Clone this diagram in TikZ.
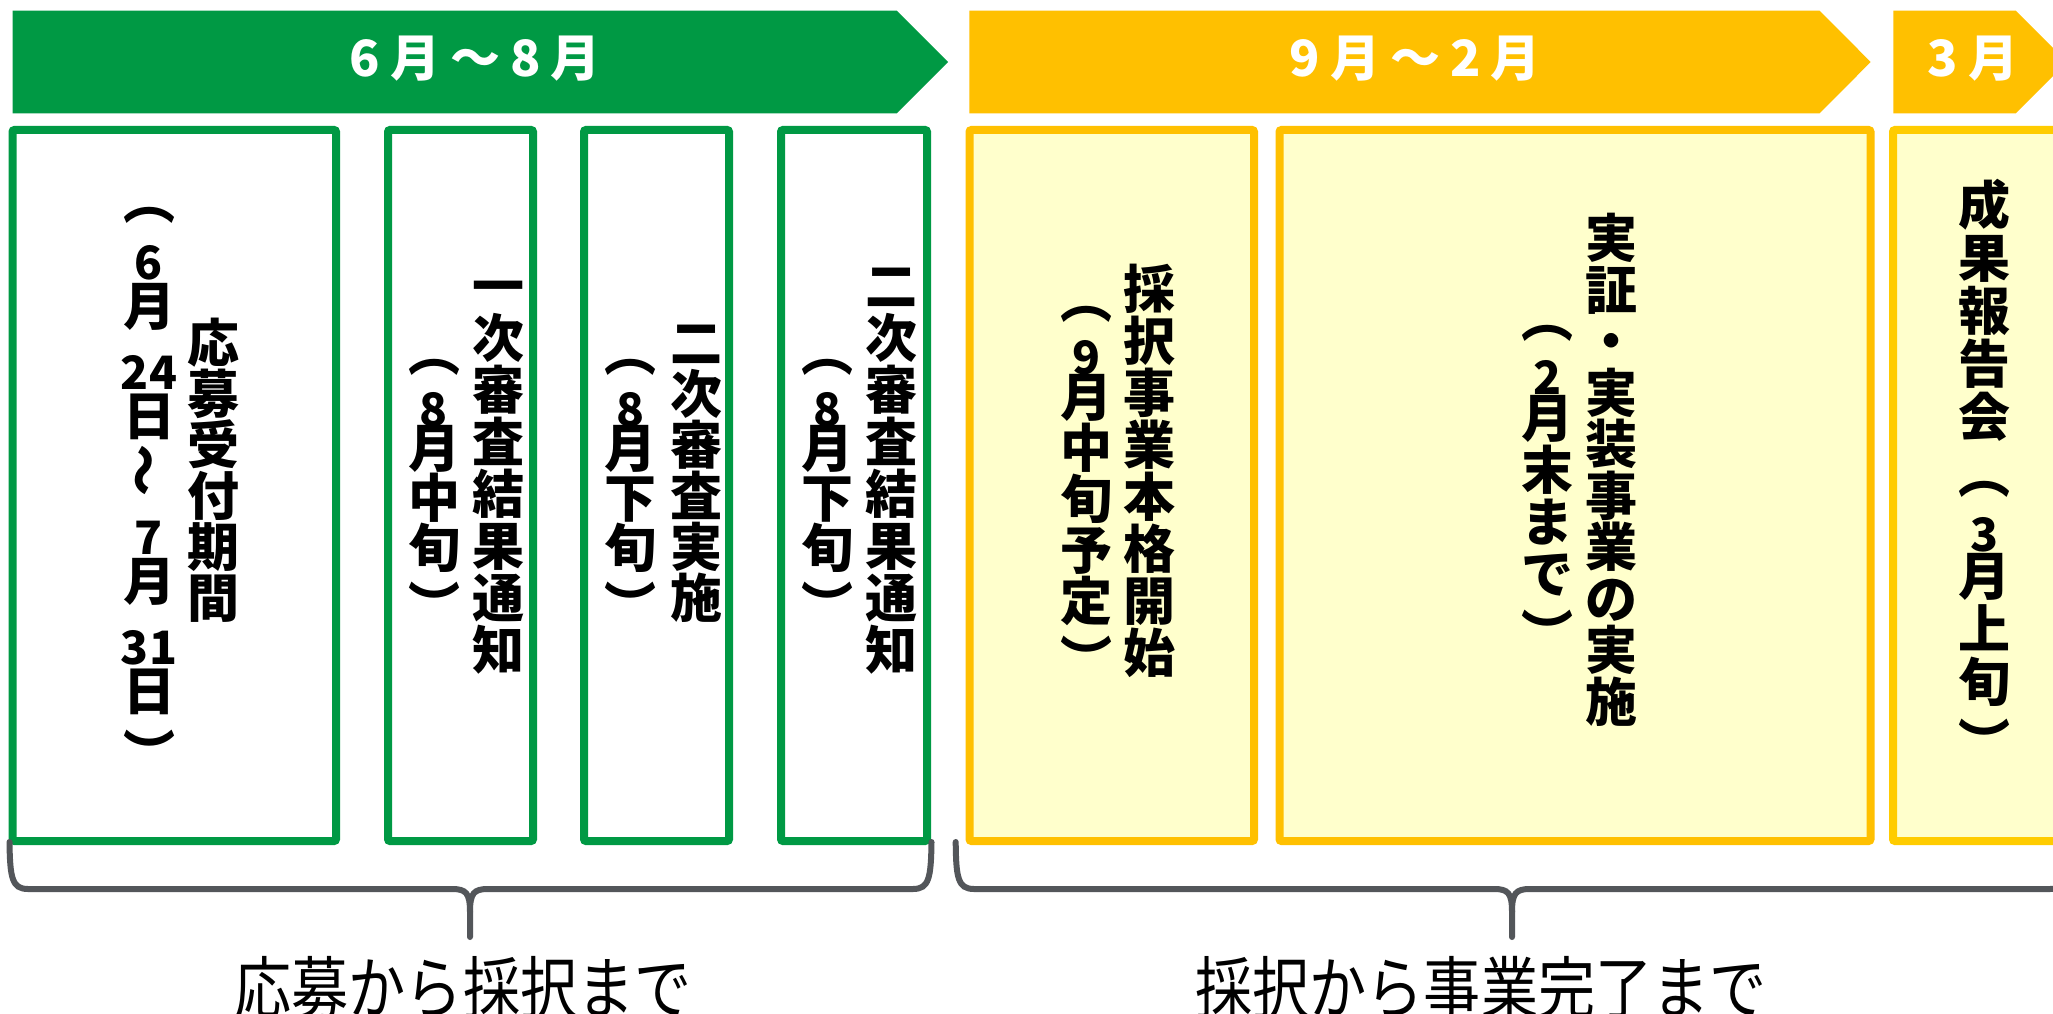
\documentclass[tikz,border=0pt]{standalone}
\usepackage{fontspec}
\usepackage{graphicx}
\newfontfamily\jpfont{Noto Sans CJK JP}
\newfontfamily\bannerfont[LetterSpace=20]{Noto Sans CJK JP}
\definecolor{grn}{HTML}{009944}
\definecolor{ylw}{HTML}{FFC000}
\definecolor{ylwlite}{HTML}{FFCC00}
\definecolor{paleylw}{HTML}{FFFFCC}
\definecolor{brc}{HTML}{53565A}
\newcommand{\tatefont}[1]{\jpfont\bfseries\fontsize{52}{#1}\selectfont\lineskiplimit=-200pt\lineskip=0pt}
\newcommand{\ts}{\rule[-0.12em]{0pt}{1em}}
\newcommand{\tnum}[1]{\raisebox{-9pt}{\fontsize{46}{46}\selectfont #1}}
\newcommand{\tnumw}[1]{\tnum{#1}\hspace{16pt}}
\newcommand{\twave}{\raisebox{6pt}{\rotatebox[origin=c]{90}{～}}}
\newcommand{\topen}{\raisebox{-4pt}{︵}}
\newcommand{\tclose}{\raisebox{-8pt}{︶}}
\tikzstyle{greenbox}=[rectangle, draw=grn, line width=8pt, rounded corners=2pt, fill=white]
\tikzstyle{yellowbox}=[rectangle, draw=ylw, line width=8pt, rounded corners=2pt, fill=paleylw]
\tikzstyle{banner}=[inner sep=0pt, anchor=base, text=white, font=\bannerfont\bfseries\fontsize{50}{50}\selectfont]
\tikzstyle{spanlabel}=[inner sep=0pt, anchor=base, font=\jpfont\fontsize{68}{68}\selectfont]
\tikzstyle{bracketline}=[draw=brc, line width=6pt, line cap=round]
\tikzset{tate/.style={inner sep=0pt, anchor=north, align=center, font=\tatefont{#1}},
  tate/.default=51}
\begin{document}
\begin{tikzpicture}[x=1pt, y=-1pt]
    \useasboundingbox (0,0) rectangle (2053,1014);
    \clip (0,0) rectangle (2053,1014);
    \fill[white] (0,0) rectangle (2053,1014);

    % banners
    \fill[grn] (12.7,10.7) -- (896.7,10.7) -- (948,62) -- (896.7,113.3) -- (12.7,113.3) -- cycle;
    \fill[ylw] (969.3,10.7) -- (1819.5,10.7) -- (1870.7,62) -- (1819.5,113.3) -- (969.3,113.3) -- cycle;
    \fill[ylw] (1893.3,10.7) -- (2015.7,10.7) -- (2067,62) -- (2015.7,113.3) -- (1893.3,113.3) -- cycle;
    \node[banner] (junaug) at (475,77) {6月～8月};
    \node[banner] (sepfeb) at (1415,77) {9月～2月};
    \node[banner] (mar) at (1973,77) {3月};

    % boxes
    \node[greenbox, minimum width=323.5pt, minimum height=711pt] (apply) at (174.25,485.5) {};
    \node[greenbox, minimum width=145pt, minimum height=711pt] (first) at (460.5,485.5) {};
    \node[greenbox, minimum width=145pt, minimum height=711pt] (second) at (656.5,485.5) {};
    \node[greenbox, minimum width=146pt, minimum height=711pt] (result) at (854,485.5) {};
    \node[yellowbox, minimum width=284.5pt, minimum height=711pt] (start) at (1111.75,485.5) {};
    \node[yellowbox, minimum width=591pt, minimum height=711pt] (demo) at (1575,485.5) {};
    \node[yellowbox, draw=ylwlite, minimum width=257pt, minimum height=711pt] (report) at (2021.5,485.5) {};

    % vertical texts
    \node[tate=55] (applyL) at (149,170) {\ts\topen\\\tnum{6}\\月\\\tnumw{24}\\日\\\twave\\\tnum{7}\\月\\\tnumw{31}\\日\\\tclose\ts};
    \node[tate] (applyR) at (213,317) {\ts 応\\募\\受\\付\\期\\間\ts};
    \node[tate=50] (firstL) at (434,322) {\ts\topen\\\tnum{8}\\月\\中\\旬\\\tclose\ts};
    \node[tate=52] (firstR) at (498,260) {\ts 一\\次\\審\\査\\結\\果\\通\\知\ts};
    \node[tate=50] (secondL) at (630,322) {\ts\topen\\\tnum{8}\\月\\下\\旬\\\tclose\ts};
    \node[tate] (secondR) at (696,317) {\ts 二\\次\\審\\査\\実\\施\ts};
    \node[tate=50] (resultL) at (827,322) {\ts\topen\\\tnum{8}\\月\\下\\旬\\\tclose\ts};
    \node[tate=52] (resultR) at (891,260) {\ts 二\\次\\審\\査\\結\\果\\通\\知\ts};
    \node[tate] (startL) at (1086,269) {\ts\topen\\\tnum{9}\\月\\中\\旬\\予\\定\\\tclose\ts};
    \node[tate=52] (startR) at (1149,263) {\ts 採\\択\\事\\業\\本\\格\\開\\始\ts};
    \node[tate=52] (demoL) at (1547,288) {\ts\topen\\\tnum{2}\\月\\末\\ま\\で\\\tclose\ts};
    \node[tate=51.5] (demoR) at (1611,212) {\ts 実\\証\\・\\実\\装\\事\\業\\の\\実\\施\ts};
    \node[tate=53] (reportT) at (1984,179) {\ts 成\\果\\報\\告\\会\\\topen\\\tnum{3}\\月\\上\\旬\\\tclose\ts};

    % brackets
    \draw[bracketline] (9.5,842) .. controls (10,878) and (12,889) .. (28,889) -- (452,889)
        .. controls (466,889) and (470,893) .. (470,912) -- (470,937);
    \draw[bracketline] (470,912) .. controls (470,893) and (474,889) .. (488,889) -- (913,889)
        .. controls (929,889) and (931,878) .. (931.5,842);
    \draw[bracketline] (955.7,842) .. controls (956,878) and (958,889) .. (974,889) -- (1494,889)
        .. controls (1508,889) and (1512,893) .. (1512,912) -- (1512,937);
    \draw[bracketline] (1512,912) .. controls (1512,893) and (1516,889) .. (1530,889) -- (2050,889)
        .. controls (2066,889) and (2068,878) .. (2068,842);

    % labels
    \node[spanlabel] (toadopt) at (463,1013) {\scalebox{0.84}[1]{応募から採択まで}};
    \node[spanlabel] (todone) at (1481,1013) {\scalebox{0.84}[1]{採択から事業完了まで}};
\end{tikzpicture}
\end{document}
